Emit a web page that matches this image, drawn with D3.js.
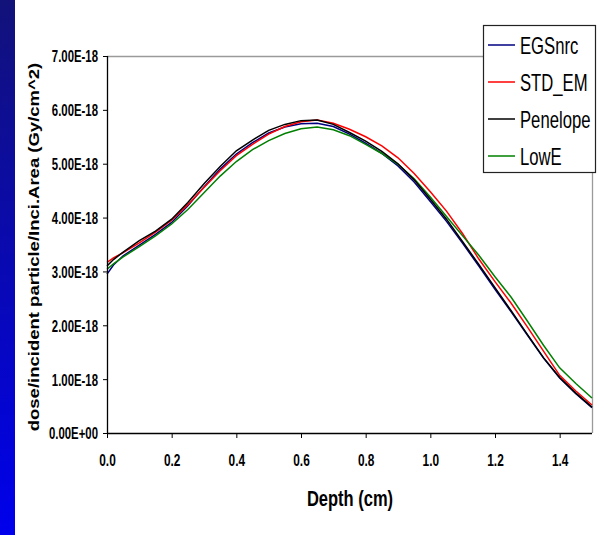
<!DOCTYPE html>
<html>
<head>
<meta charset="utf-8">
<script src="https://cdn.jsdelivr.net/npm/d3@7"></script>
<style>
  body { margin: 0; background: #fff; }
  svg { display: block; }
</style>
</head>
<body>
<svg id="chart" width="602" height="535"></svg>
<script>
// depth in cm, dose values in units of 1e-18 Gy/cm^2
const depth = [0, 0.02, 0.05, 0.10, 0.15, 0.20, 0.25, 0.30, 0.35, 0.40, 0.45, 0.50, 0.55, 0.60, 0.65, 0.70,
  0.75, 0.80, 0.85, 0.90, 0.95, 1.00, 1.05, 1.10, 1.15, 1.20, 1.25, 1.30, 1.35, 1.40, 1.45, 1.50]

const egsnrc = [2.95, 3.12, 3.29, 3.49, 3.69, 3.91, 4.22, 4.57, 4.90, 5.18, 5.39, 5.57, 5.68, 5.74, 5.75, 5.69,
  5.55, 5.38, 5.19, 4.96, 4.66, 4.30, 3.93, 3.52, 3.10, 2.67, 2.25, 1.82, 1.39, 1.02, 0.73, 0.47]
const stdEm = [3.17, 3.25, 3.35, 3.53, 3.73, 3.95, 4.24, 4.56, 4.87, 5.15, 5.36, 5.55, 5.69, 5.78, 5.81, 5.75,
  5.64, 5.50, 5.33, 5.11, 4.82, 4.48, 4.12, 3.70, 3.23, 2.81, 2.41, 1.97, 1.52, 1.07, 0.78, 0.52]
const penelope = [3.10, 3.22, 3.36, 3.57, 3.75, 3.97, 4.28, 4.63, 4.95, 5.24, 5.44, 5.62, 5.73, 5.80, 5.81, 5.73,
  5.58, 5.42, 5.23, 5.00, 4.70, 4.34, 3.97, 3.55, 3.13, 2.70, 2.27, 1.83, 1.40, 1.03, 0.74, 0.48]
const lowE = [3.04, 3.14, 3.27, 3.46, 3.66, 3.88, 4.15, 4.46, 4.77, 5.04, 5.26, 5.43, 5.56, 5.65, 5.68, 5.63,
  5.52, 5.36, 5.19, 4.99, 4.72, 4.38, 4.02, 3.66, 3.30, 2.90, 2.52, 2.08, 1.63, 1.21, 0.92, 0.65]

const seriesNames = ['EGSnrc', 'STD_EM', 'Penelope', 'LowE']
const seriesColors = ['#000080', '#ff0000', '#000000', '#008000']

const xTicks = [0, 0.2, 0.4, 0.6, 0.8, 1.0, 1.2, 1.4]
const xTickLabels = ['0.0', '0.2', '0.4', '0.6', '0.8', '1.0', '1.2', '1.4']
const yTicks = [0, 1, 2, 3, 4, 5, 6, 7]
const yTickLabels = ['0.00E+00', '1.00E-18', '2.00E-18', '3.00E-18', '4.00E-18', '5.00E-18', '6.00E-18', '7.00E-18']

const font = '"Liberation Sans", Arial, sans-serif'
const svg = d3.select('#chart')

// blue strip on the left edge
const grad = svg.append('defs').append('linearGradient')
  .attr('id', 'strip').attr('x1', 0).attr('y1', 0).attr('x2', 0).attr('y2', 1)
grad.append('stop').attr('offset', '0%').attr('stop-color', '#12127a')
grad.append('stop').attr('offset', '100%').attr('stop-color', '#0000ec')
svg.append('rect').attr('x', 0).attr('y', 0).attr('width', 15).attr('height', 535).attr('fill', 'url(#strip)')

const plotLeft = 107, plotRight = 592, plotTop = 56, plotBottom = 433

const x = d3.scaleLinear().domain([0, 1.5]).range([plotLeft, plotRight])
const y = d3.scaleLinear().domain([0, 7]).range([plotBottom, plotTop])

// gray frame on top and right
svg.append('line').attr('x1', plotLeft).attr('x2', plotRight).attr('y1', plotTop + 0.5).attr('y2', plotTop + 0.5)
  .attr('stroke', '#9a9a9a').attr('stroke-width', 1.3)
svg.append('line').attr('x1', plotRight + 0.5).attr('x2', plotRight + 0.5).attr('y1', plotTop).attr('y2', plotBottom)
  .attr('stroke', '#9a9a9a').attr('stroke-width', 1.3)

// series
const line = d3.line().x((d, i) => x(depth[i])).y(d => y(d))
const allSeries = [egsnrc, stdEm, penelope, lowE]
const drawOrder = [0, 1, 3, 2]
drawOrder.forEach(k => {
  svg.append('path')
    .attr('d', line(allSeries[k]))
    .attr('fill', 'none')
    .attr('stroke', seriesColors[k])
    .attr('stroke-width', 1.5)
})

// y axis
const yAxis = svg.append('g')
  .attr('transform', `translate(${plotLeft},0)`)
  .call(d3.axisLeft(y).tickValues(yTicks).tickSize(4).tickPadding(5).tickFormat((d, i) => yTickLabels[i]))
yAxis.select('.domain').attr('stroke', '#000').attr('stroke-width', 1.3).attr('d', `M0.5,${plotTop}V${plotBottom}`)
yAxis.selectAll('line').attr('stroke', '#000')
yAxis.selectAll('text')
  .attr('x', 0).attr('dy', '0.36em')
  .attr('transform', 'translate(-9,0) scale(0.69,1)')
  .attr('font-family', font).attr('font-size', 16.5).attr('font-weight', 'bold').attr('fill', '#000')

// x axis
const xAxis = svg.append('g')
  .attr('transform', `translate(0,${plotBottom})`)
  .call(d3.axisBottom(x).tickValues(xTicks).tickSize(5).tickFormat((d, i) => xTickLabels[i]))
xAxis.select('.domain').attr('stroke', '#000').attr('stroke-width', 1.3).attr('d', `M${plotLeft},0.5H${plotRight}`)
xAxis.selectAll('line').attr('stroke', '#000')
xAxis.selectAll('text')
  .attr('y', 0).attr('dy', 0)
  .attr('transform', 'translate(0,33) scale(0.72,1)')
  .attr('font-family', font).attr('font-size', 16.5).attr('font-weight', 'bold').attr('fill', '#000')

// axis titles
svg.append('text')
  .attr('transform', 'translate(350,506) scale(0.75,1)')
  .attr('text-anchor', 'middle')
  .attr('font-family', font).attr('font-size', 22).attr('font-weight', 'bold')
  .text('Depth (cm)')

svg.append('text')
  .attr('transform', 'translate(39,247) rotate(-90) scale(1,0.8)')
  .attr('text-anchor', 'middle')
  .attr('font-family', font).attr('font-size', 18.5).attr('font-weight', 'bold')
  .text('dose/incident particle/Inci.Area (Gy/cm^2)')

// legend
const legend = svg.append('g').attr('transform', 'translate(483,25)')
legend.append('rect')
  .attr('x', 0.5).attr('y', 0.5).attr('width', 112).attr('height', 147)
  .attr('fill', '#fff').attr('stroke', '#222').attr('stroke-width', 1.2)
seriesNames.forEach((name, i) => {
  const ly = 20 + i * 37
  legend.append('line')
    .attr('x1', 5).attr('x2', 32).attr('y1', ly).attr('y2', ly)
    .attr('stroke', seriesColors[i]).attr('stroke-width', 1.5)
  legend.append('text')
    .attr('transform', `translate(37,${ly + 9}) scale(0.71,1)`)
    .attr('font-family', font).attr('font-size', 23.5)
    .text(name)
})
</script>
</body>
</html>
